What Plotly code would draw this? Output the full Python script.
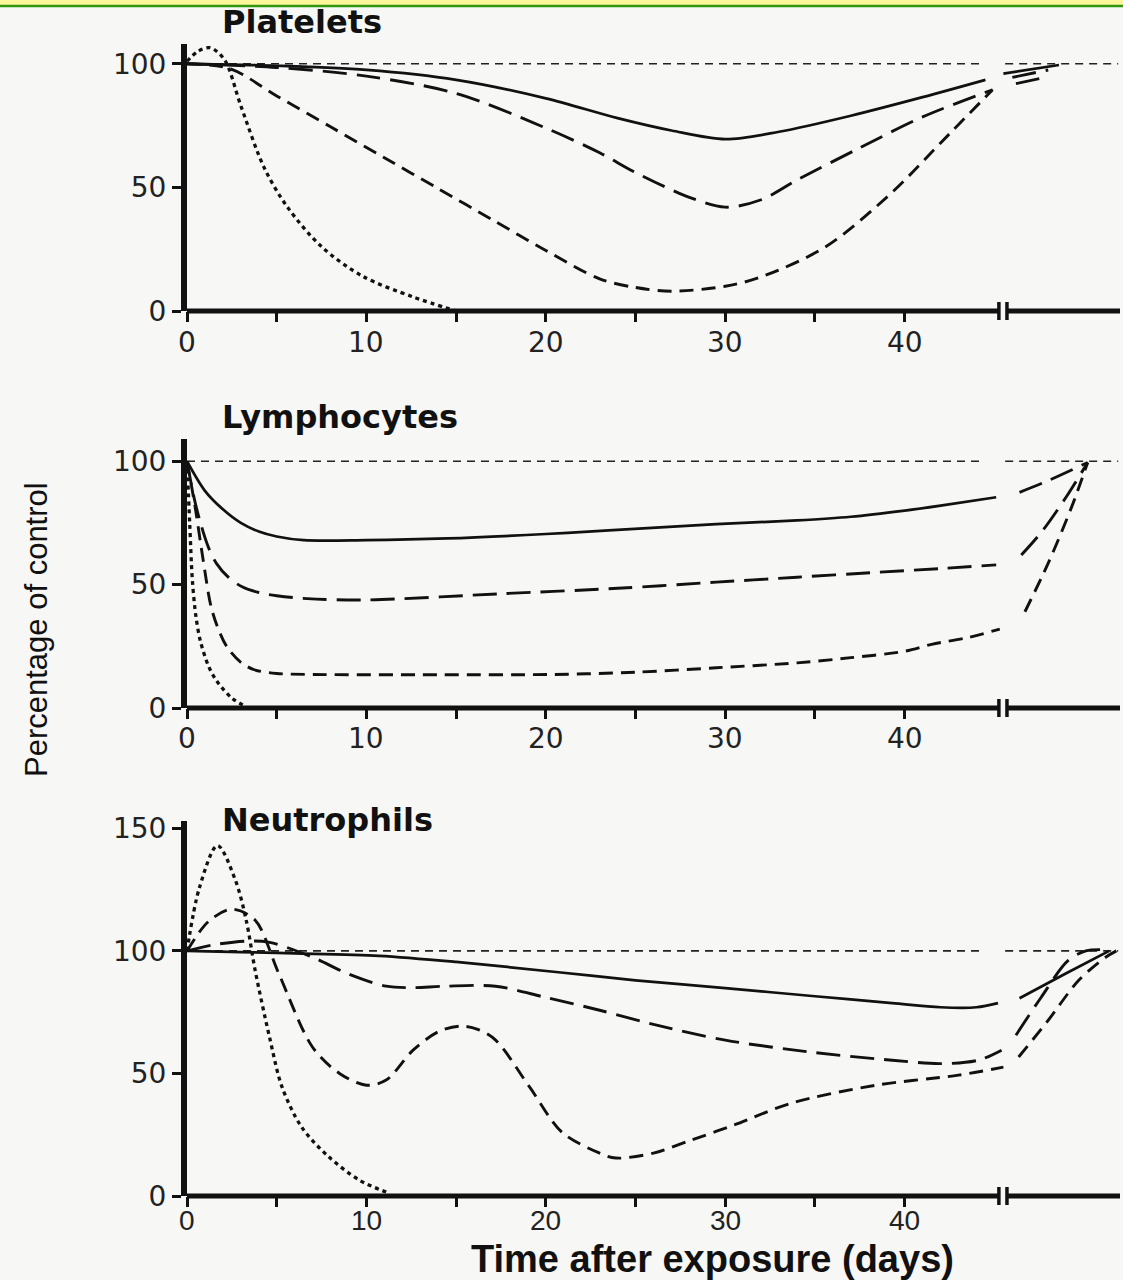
import plotly.graph_objects as go

W, H = 1123, 1280

# ---------------- data (percentage of control vs. days) ----------------
# x positions beyond the axis break (> 45.3) are the recovery segments drawn after the break
REF_X = [0, 44.4, None, 45.6, 51.9]
REF_Y = [100, 100, None, 100, 100]

# Platelets
P_solid_x = [0, 5, 10, 15, 20, 24, 27, 30, 33, 37, 41, 44.5]
P_solid_y = [100, 99.2, 97.5, 93.5, 86, 78, 73, 69.5, 72.5, 79, 86.5, 93.5]
P_long_x = [0, 5, 10, 15, 20, 23, 25, 28, 30, 32, 34, 37.5, 41, 44.9]
P_long_y = [100, 98.5, 95, 88, 74, 64, 56, 46, 42, 45, 53, 66, 78.5, 89.5]
P_dash_x = [0, 2.4, 5, 8, 11, 14, 17, 20, 23, 25, 27, 30, 32, 35.6, 39.3, 42, 44.9]
P_dash_y = [100, 98, 87, 74.5, 62, 49.5, 37, 24.5, 13, 9.5, 8, 10, 13.8, 26, 48, 68, 89.5]
P_dot_x = [0, 0.6, 1.3, 2.1, 3, 4.3, 5.6, 7.5, 9.8, 12.6, 15]
P_dot_y = [101, 105, 106.5, 101.5, 83, 58, 42, 26, 14, 5.7, 0]
P_solid_post_x = [45.5, 48.6]
P_solid_post_y = [96, 99.5]
P_long_post_x = [46.0, 48.0]
P_long_post_y = [94.5, 97.5]
P_dash_post_x = [46.2, 47.5]
P_dash_post_y = [92, 94]

# Lymphocytes
L_solid_x = [0, 1, 2, 3, 4, 5, 6.5, 10, 14.5, 20, 23.5, 29.5, 34, 37, 40, 42, 45.1]
L_solid_y = [100, 88, 80.5, 75, 71.5, 69.5, 68, 68, 68.7, 70.5, 72, 74.5, 76, 77.5, 80, 82, 85.4]
L_long_x = [0, 0.4, 0.75, 1.2, 1.65, 2.3, 3.1, 4, 5, 6.7, 10, 17.5, 24, 29.5, 34, 38.5, 42, 45.1]
L_long_y = [100, 85, 75, 65, 58.5, 53, 49, 46.8, 45.5, 44.3, 43.8, 46.3, 48.5, 51, 53, 55, 56.5, 58]
L_dash_x = [0, 0.45, 0.9, 1.35, 1.8, 2.25, 3, 3.75, 5, 7, 14, 20.5, 25, 29.5, 34, 37, 40, 41.5, 43.5, 45.3]
L_dash_y = [100, 81.6, 60, 40.8, 31, 24.5, 18.5, 15.5, 14, 13.6, 13.5, 13.6, 14.5, 16.3, 18.3, 20.4, 23, 25.8, 28.5, 32]
L_dot_x = [0, 0.15, 0.3, 0.5, 0.75, 1.2, 1.65, 2.5, 3.3]
L_dot_y = [100, 75, 51.7, 37, 27, 17, 11, 4, 0.5]
L_a_post_x = [46.4, 48.05, 50.2]
L_a_post_y = [87.4, 92.3, 99.5]
L_b_post_x = [46.5, 47.7, 49.0, 50.2]
L_b_post_y = [62, 72, 85.5, 99.5]
L_c_post_x = [46.7, 48.0, 49.3, 50.2]
L_c_post_y = [39, 58.7, 81.4, 99.5]

# Neutrophils
N_solid_x = [0, 3, 6, 10.7, 15, 20.7, 25, 30, 35, 39.3, 42, 44, 45.2]
N_solid_y = [100, 99.5, 99, 98, 95.5, 91.3, 88, 84.8, 81.5, 78.7, 77, 77, 78.7]
N_long_x = [0, 1.5, 3.3, 4.6, 7, 8.9, 11.1, 12.5, 14.4, 17.2, 20, 23, 26, 30, 35, 39.3, 42, 44.1, 45.4]
N_long_y = [100, 102.5, 104, 103.5, 97.4, 90.9, 85.6, 85, 85.6, 85.6, 81, 75.8, 70, 63.6, 58.5, 55.4, 54, 55.4, 59.5]
N_dash_x = [0, 1.2, 2.5, 3.8, 5.1, 7, 8.5, 10, 11.1, 12.6, 14, 15.2, 16.2, 17.2, 19.1, 20.9, 23,
            23.9, 26, 28.1, 30.5, 33.7, 38.4, 43, 45.5]
N_dash_y = [100, 112, 117, 112.5, 91, 60.7, 50, 45.2, 47.3, 59.5, 67, 69.3, 68, 63.6, 44.4, 26, 17.5,
            15.5, 17.5, 22.8, 29, 37.9, 45.2, 49.3, 52.6]
N_dot_x = [0, 0.7, 1.7, 2.7, 3.3, 3.8, 4.6, 5.3, 6.4, 7.9, 9.6, 11.1]
N_dot_y = [100, 126, 143, 128.8, 112.5, 92, 64.8, 44.4, 28, 16, 6.5, 1.6]
N_a_post_x = [46.4, 48.9, 51.4]
N_a_post_y = [80.7, 90.5, 100]
N_b_post_x = [46.2, 47.6, 49.1, 50.1, 51.0]
N_b_post_y = [65.6, 81, 96, 100, 100.5]
N_c_post_x = [46.35, 48.0, 49.7, 51.2, 51.8]
N_c_post_y = [56.7, 71.7, 88, 97.4, 100]

X_TICKVALS = [0, 5, 10, 15, 20, 25, 30, 35, 40]
X_TICKTEXT = ['0', '', '10', '', '20', '', '30', '', '40']
PANEL_TITLES = ['Platelets', 'Lymphocytes', 'Neutrophils']
X_TITLE = 'Time after exposure (days)'
Y_TITLE = 'Percentage of control'

# ---------------- styling / layout ----------------


def py(p):
    """paper y for a pixel row p (from the top)"""
    return 1 - p / H


X_RANGE = [0, 52]
BREAK_A, BREAK_B = 45.25, 45.7
XDOM = [187 / W, 1120 / W]
YDOMS = [[py(311), py(44)], [py(708), py(439)], [py(1196), py(821)]]
YRANGES = [[0, 108], [0, 109], [0, 153]]
YTICKS = [[0, 50, 100], [0, 50, 100], [0, 50, 100, 150]]
XLABEL_Y = [342, 738, 1220.5]  # pixel centre of the x tick labels in each panel

STY = {
    'solid': dict(color='#111', width=2.7, dash='solid'),
    'long': dict(color='#111', width=2.9, dash='24px,10px'),
    'dash': dict(color='#111', width=2.9, dash='14px,8px'),
    'dot': dict(color='#111', width=3.3, dash='4px,4px'),
    'ref': dict(color='#222', width=1.6, dash='8px,6px'),
}

panels = [
    [(REF_X, REF_Y, 'ref'), (P_solid_x, P_solid_y, 'solid'), (P_long_x, P_long_y, 'long'),
     (P_dash_x, P_dash_y, 'dash'), (P_dot_x, P_dot_y, 'dot'),
     (P_solid_post_x, P_solid_post_y, 'solid'), (P_long_post_x, P_long_post_y, 'long'),
     (P_dash_post_x, P_dash_post_y, 'solid')],
    [(REF_X, REF_Y, 'ref'), (L_solid_x, L_solid_y, 'solid'), (L_long_x, L_long_y, 'long'),
     (L_dash_x, L_dash_y, 'dash'), (L_dot_x, L_dot_y, 'dot'),
     (L_a_post_x, L_a_post_y, 'long'), (L_b_post_x, L_b_post_y, 'long'),
     (L_c_post_x, L_c_post_y, 'dash')],
    [(REF_X, REF_Y, 'ref'), (N_solid_x, N_solid_y, 'solid'), (N_long_x, N_long_y, 'long'),
     (N_dash_x, N_dash_y, 'dash'), (N_dot_x, N_dot_y, 'dot'),
     (N_a_post_x, N_a_post_y, 'solid'), (N_b_post_x, N_b_post_y, 'long'),
     (N_c_post_x, N_c_post_y, 'dash')],
]

fig = go.Figure()
for i, traces in enumerate(panels):
    xa = 'x' if i == 0 else f'x{i+1}'
    ya = 'y' if i == 0 else f'y{i+1}'
    for xs, ys, st in traces:
        fig.add_trace(go.Scatter(x=xs, y=ys, mode='lines', xaxis=xa, yaxis=ya,
                                 line=dict(shape='spline', smoothing=0.9, **STY[st]),
                                 showlegend=False, hoverinfo='skip', connectgaps=False))

WIDE = 'DejaVu Sans, Verdana, sans-serif'
HELV = 'Liberation Sans, Arial, Helvetica, sans-serif'
BG = '#f7f7f6'

layout = dict(
    width=W, height=H, margin=dict(l=0, r=0, t=0, b=0, autoexpand=False),
    paper_bgcolor=BG, plot_bgcolor='rgba(0,0,0,0)', showlegend=False,
)
for i in range(3):
    xk = 'xaxis' if i == 0 else f'xaxis{i+1}'
    yk = 'yaxis' if i == 0 else f'yaxis{i+1}'
    ya = 'y' if i == 0 else f'y{i+1}'
    xa = 'x' if i == 0 else f'x{i+1}'
    layout[xk] = dict(
        domain=XDOM, range=X_RANGE, anchor=ya, showline=False, showgrid=False, zeroline=False,
        tickmode='array', tickvals=X_TICKVALS, showticklabels=False, ticks='outside',
        ticklen=10, tickwidth=3, tickcolor='#111', fixedrange=True, automargin=False,
    )
    layout[yk] = dict(
        domain=YDOMS[i], range=YRANGES[i], anchor=xa, showline=True, linewidth=6, linecolor='#111',
        showgrid=False, zeroline=False, tickmode='array', tickvals=YTICKS[i],
        ticks='outside', ticklen=9, tickwidth=3, tickcolor='#111', automargin=False,
        tickfont=dict(family=WIDE, size=28, color='#222'), fixedrange=True,
    )
fig.update_layout(**layout)


def xp(v):
    return XDOM[0] + (v - X_RANGE[0]) / (X_RANGE[1] - X_RANGE[0]) * (XDOM[1] - XDOM[0])


shapes = []
for i in range(3):
    y0 = YDOMS[i][0]
    lw = dict(color='#111', width=5)
    shapes.append(dict(type='line', xref='paper', yref='paper', x0=xp(0), x1=xp(BREAK_A), y0=y0, y1=y0, line=lw))
    shapes.append(dict(type='line', xref='paper', yref='paper', x0=xp(BREAK_B), x1=xp(X_RANGE[1]), y0=y0, y1=y0, line=lw))
    for b in (BREAK_A, BREAK_B):
        shapes.append(dict(type='line', xref='paper', yref='paper', x0=xp(b), x1=xp(b),
                           y0=y0 - 9 / H, y1=y0 + 9 / H, line=dict(color='#111', width=3.5)))
# top banner
shapes.append(dict(type='rect', xref='paper', yref='paper', x0=0, x1=1, y0=py(5), y1=1,
                   fillcolor='#fff59a', line=dict(width=0), layer='above'))
shapes.append(dict(type='line', xref='paper', yref='paper', x0=0, x1=1, y0=py(6), y1=py(6),
                   line=dict(color='#2f9a10', width=2.5), layer='above'))
fig.update_layout(shapes=shapes)

annotations = []
# x tick labels
for i in range(3):
    xa = 'x' if i == 0 else f'x{i+1}'
    for v, t in zip(X_TICKVALS, X_TICKTEXT):
        if not t:
            continue
        annotations.append(dict(text=t, xref=xa, yref='paper', x=v, y=py(XLABEL_Y[i]),
                                xanchor='center', yanchor='middle', showarrow=False,
                                font=dict(family=(HELV if i == 2 else WIDE), size=(28 if i == 2 else 28),
                                          color='#222')))
title_y = [22, 417, 820]
for t, yy in zip(PANEL_TITLES, title_y):
    annotations.append(dict(text=f'<b>{t}</b>', xref='paper', yref='paper', x=220 / W, y=py(yy),
                            xanchor='left', yanchor='middle', showarrow=False,
                            font=dict(family=WIDE, size=32, color='#111')))
annotations.append(dict(text=f'<b>{X_TITLE}</b>', xref='paper', yref='paper', x=712 / W, y=py(1258.5),
                        xanchor='center', yanchor='middle', showarrow=False,
                        font=dict(family=HELV, size=38, color='#111')))
annotations.append(dict(text=Y_TITLE, xref='paper', yref='paper', x=36 / W, y=py(630),
                        xanchor='center', yanchor='middle', showarrow=False, textangle=-90,
                        font=dict(family=HELV, size=31, color='#111')))
fig.update_layout(annotations=annotations)

POST = (
    "document.documentElement.style.margin='0';document.body.style.margin='0';"
    "document.body.style.padding='0';document.body.style.background='" + BG + "';"
)
fig.write_html('out.html', post_script=POST)
